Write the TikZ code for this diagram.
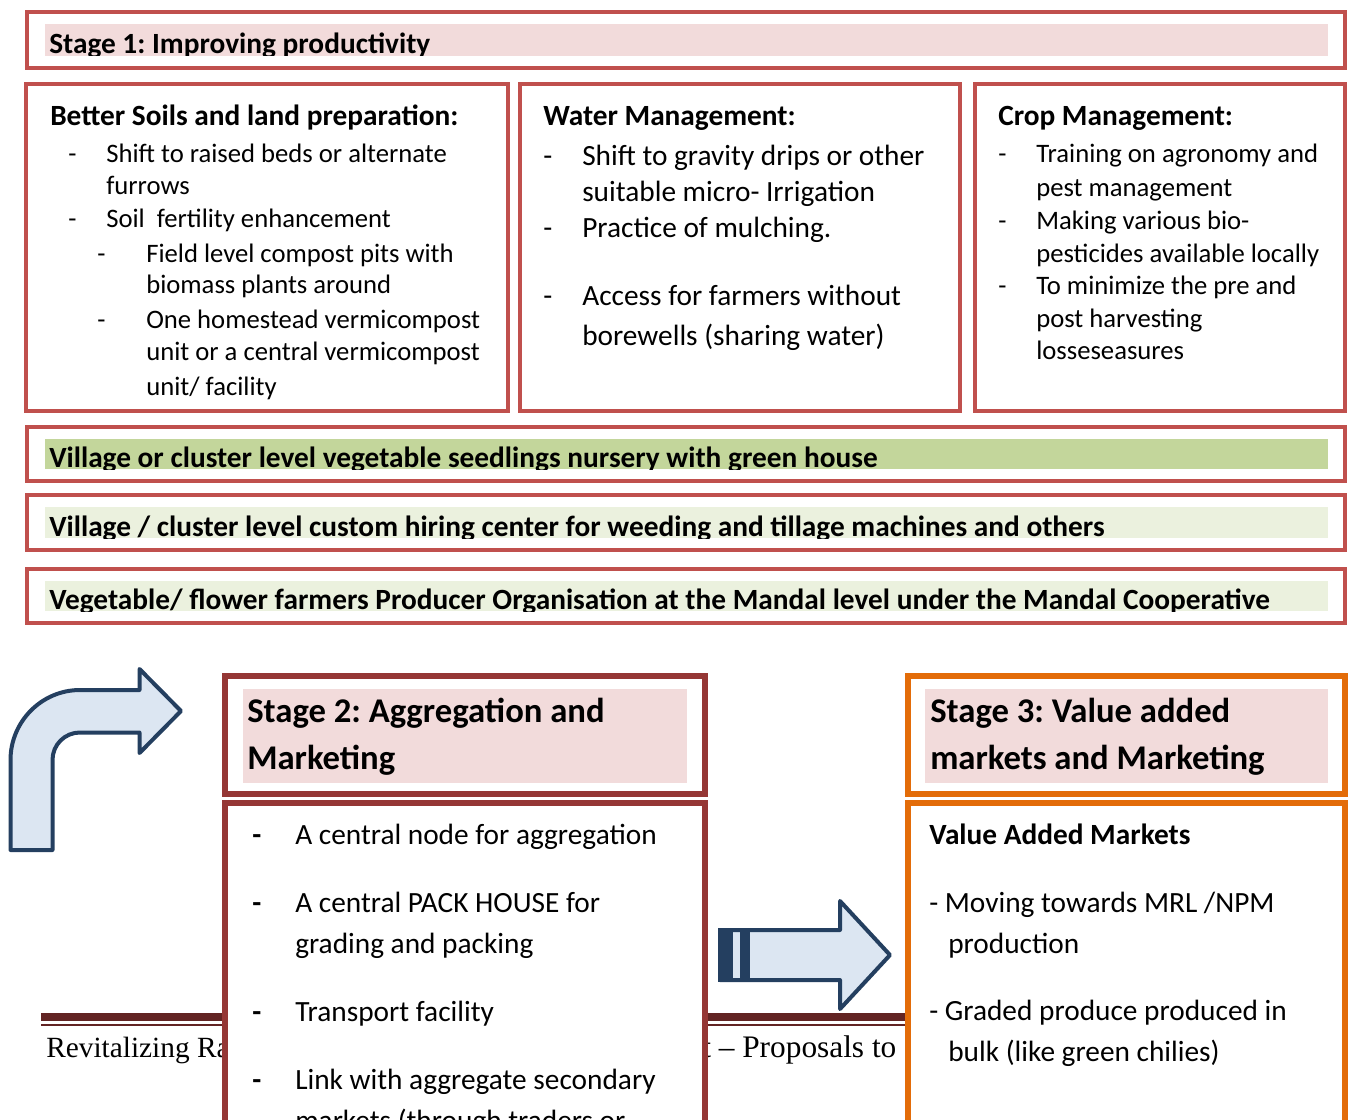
\documentclass[tikz,border=0pt]{standalone}
\usepackage{fontspec}
\setmainfont{Carlito}
\newfontfamily\footfont[Ligatures=TeX]{Liberation Serif}
\usetikzlibrary{calc}
\frenchspacing

\definecolor{boxred}{HTML}{C0504D}
\definecolor{aggred}{HTML}{953735}
\definecolor{valorange}{HTML}{E36C09}
\definecolor{pinkfill}{HTML}{F2DBDB}
\definecolor{nursery}{HTML}{C3D69B}
\definecolor{palegreen}{HTML}{EBF1DE}
\definecolor{navy}{HTML}{243F60}
\definecolor{arrowfill}{HTML}{DCE6F2}
\definecolor{footred}{HTML}{622423}

\tikzset{
  body/.style={anchor=base west, inner sep=0pt, font=\fontsize{20}{24}\selectfont},
  bodyl/.style={body, font=\fontsize{22}{26}\selectfont},
  head/.style={body, font=\fontsize{22}{26}\selectfont\bfseries},
  bighead/.style={body, font=\fontsize{26}{31}\selectfont\bfseries},
  foot/.style={anchor=base west, inner sep=0pt, font=\footfont\fontsize{22}{26}\selectfont},
  redline/.style={draw=boxred, line width=3.4pt},
  aggline/.style={draw=aggred, line width=4.1pt},
  valline/.style={draw=valorange, line width=4.1pt},
  blockarrow/.style={draw=navy, fill=arrowfill, line width=3pt, line join=round},
}

\begin{document}
\begin{tikzpicture}[x=0.75pt, y=-0.75pt]
\clip (0,0) rectangle (1349,1120);
\fill[white] (0,0) rectangle (1349,1120);

% stage 1 title band and the three wide bands
\foreach \t/\b/\c/\s [count=\i] in {12/68/pinkfill/{Stage 1: Improving productivity},
    427/481/nursery/{Village or cluster level vegetable seedlings nursery with green house},
    495/550/palegreen/{Village / cluster level custom hiring center for weeding and tillage machines and others},
    569/623/palegreen/{Vegetable/ flower farmers Producer Organisation at the Mandal level under the Mandal Cooperative}}{
  \draw[redline] (27,\t) rectangle (1345,\b);
  \begin{scope}
    \clip (45,\t+12) rectangle (1328,\b-12);
    \fill[\c] (45,\t+12) rectangle (1328,\b-12);
    \node[head] (band-\i) at (49,\b-14) {\s};
  \end{scope}
}

% the three boxes of stage 1
\draw[redline] (26,84) rectangle (508,411);
\draw[redline] (520,84) rectangle (960,411);
\draw[redline] (975,84) rectangle (1345,411);

\node[head] (soils) at (50,126) {Better Soils and land preparation:};
\foreach \x/\y/\t [count=\i] in {106/163/{Shift to raised beds or alternate}, 106/195/furrows,
    106/228/{Soil~~fertility enhancement}, 146/262/{Field level compost pits with},
    146/293/{biomass plants around}, 146/328/{One homestead vermicompost},
    146/360/{unit or a central vermicompost}, 146/395/{unit/ facility}}
  \node[body] (soils-\i) at (\x,\y) {\t};
\foreach \x/\y in {68/163, 68/228, 97/262, 97/328}
  \node[body] (soils-d\y) at (\x,\y) {-};

\node[head] (water) at (543,126) {Water Management:};
\foreach \y/\t [count=\i] in {166/{Shift to gravity drips or other}, 201/{suitable micro- Irrigation},
    237/{Practice of mulching.}, 305/{Access for farmers without}, 345/{borewells (sharing water)}}
  \node[bodyl] (water-\i) at (582,\y) {\t};
\foreach \y in {166, 237, 305}
  \node[bodyl] (water-d\y) at (543,\y) {-};

\node[head] (crop) at (998,126) {Crop Management:};
\foreach \y/\t [count=\i] in {163/{Training on agronomy and}, 196/{pest management},
    229/{Making various bio-}, 262/{pesticides available locally}, 294/{To minimize the pre and},
    327/{post harvesting}, 359/{losseseasures}}
  \node[body] (crop-\i) at (1036,\y) {\t};
\foreach \y in {163, 229, 294}
  \node[body] (crop-d\y) at (998,\y) {-};

% page footer behind the lower boxes
\fill[footred] (41,1013) rectangle (1310,1021);
\fill[footred] (41,1024) rectangle (1310,1026);
\node[foot] (foot-1) at (46,1057) {Revitalizing Ra};
\node[foot, font=\footfont\fontsize{23.5}{28}\selectfont] (foot-2) at (702,1057) {t -- Proposals to};

% turn arrow
\draw[blockarrow] (10.5,850) -- (10.5,760) .. controls (10.5,721.6) and (41.6,690) .. (80,690)
  -- (139.5,690) -- (139.5,669) -- (181,711) -- (139.5,753) -- (139.5,732.5) -- (80,732.5)
  .. controls (64.8,732.5) and (52.5,744.7) .. (52.5,760) -- (52.5,850) -- cycle;

% stage 2
\draw[aggline] (225,676) rectangle (705,794);
\fill[pinkfill] (243,689) rectangle (687,783);
\node[bighead] (agg-1) at (247,722) {Stage 2: Aggregation and};
\node[bighead] (agg-2) at (247,769) {Marketing};
\draw[aggline, fill=white] (225,803) rectangle (705,1140);
\foreach \y/\t [count=\i] in {844/{A central node for aggregation}, 912/{A central PACK HOUSE for},
    953/{grading and packing}, 1021/{Transport facility}, 1089/{Link with aggregate secondary},
    1130/{markets (through traders or}}
  \node[bodyl] (node-\i) at (295,\y) {\t};
\foreach \y in {844, 912, 1021, 1089}
  \node[bodyl] (node-d\y) at (252,\y) {\textbf{-}};

% striped arrow
\draw[blockarrow] (720,930) -- (840,930) -- (840,901) -- (890,955) -- (840,1009) -- (840,980)
  -- (720,980) -- cycle;
\fill[navy] (718,928) rectangle (733,982);
\fill[navy] (740,928) rectangle (750,982);

% stage 3
\draw[valline] (908,676) rectangle (1345,794);
\fill[pinkfill] (925,689) rectangle (1328,783);
\node[bighead] (value-1) at (930,722) {Stage 3: Value added};
\node[bighead] (value-2) at (930,769) {markets and Marketing};
\draw[valline, fill=white] (908,803) rectangle (1345,1140);
\node[head] (markets) at (929,844) {Value Added Markets};
\foreach \x/\y/\t [count=\i] in {929/912/{- Moving towards MRL /NPM}, 948/953/production,
    929/1020/{- Graded produce produced in}, 948/1061/{bulk (like green chilies)}}
  \node[bodyl] (markets-\i) at (\x,\y) {\t};
\end{tikzpicture}
\end{document}
